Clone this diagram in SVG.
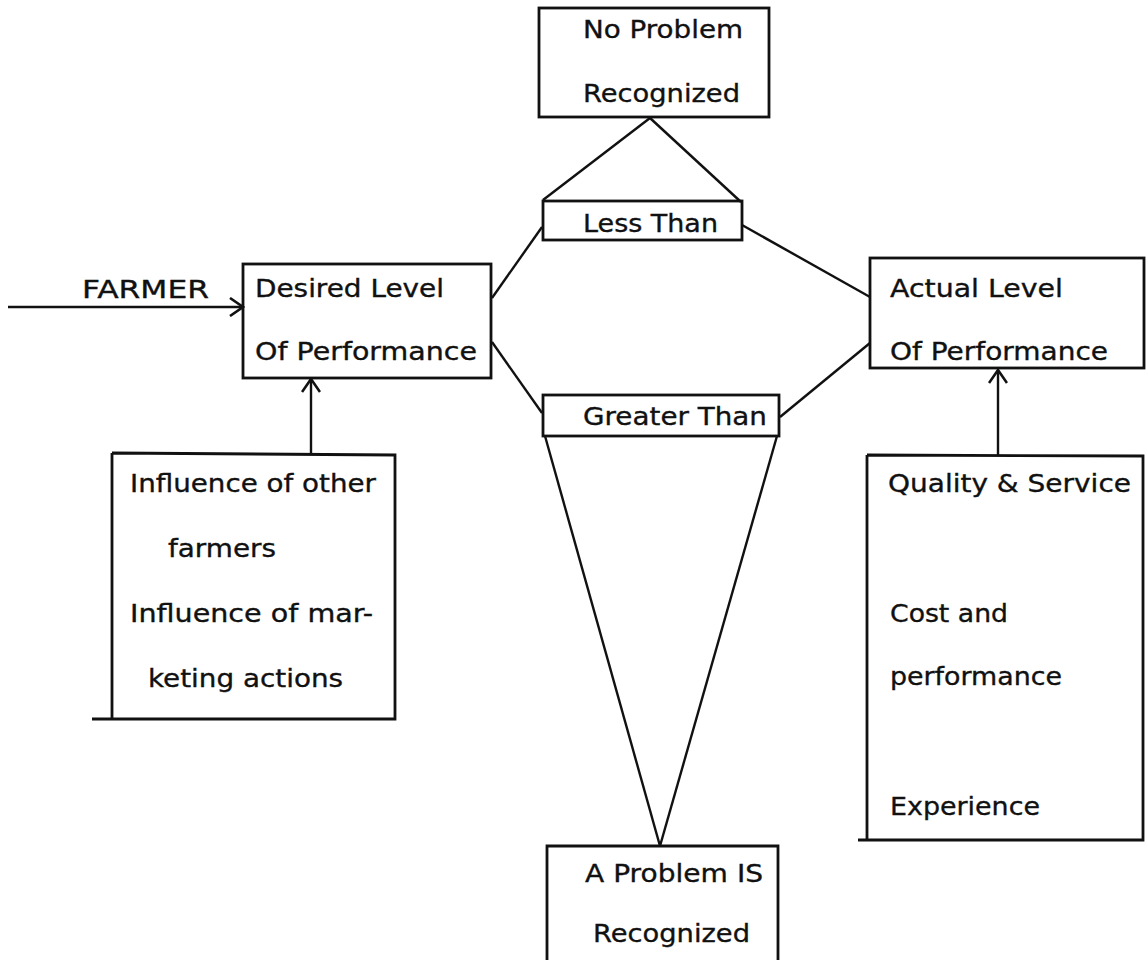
<svg xmlns="http://www.w3.org/2000/svg" width="1146" height="960" viewBox="0 0 1146 960">
<style>
.box{fill:none;stroke:#111;stroke-width:2.8}
.ln{fill:none;stroke:#111;stroke-width:2.4}
text{font-family:"DejaVu Sans","Noto Sans",sans-serif;font-size:25px;fill:#111;stroke:#111;stroke-width:0.35}
</style>
<defs>
<marker id="arr" viewBox="0 0 20 20" refX="18" refY="10" markerWidth="20" markerHeight="20" markerUnits="userSpaceOnUse" orient="auto">
<path d="M5,1 L18,10 L5,19" fill="none" stroke="#111" stroke-width="2.6"/>
</marker>
</defs>
<rect width="1146" height="960" fill="#fff"/>
<g id="connectors">
<line class="ln" x1="8" y1="307" x2="243" y2="307" marker-end="url(#arr)"/>
<line class="ln" x1="311" y1="453" x2="311" y2="379" marker-end="url(#arr)"/>
<line class="ln" x1="998" y1="455" x2="998" y2="370" marker-end="url(#arr)"/>
<line class="ln" x1="650" y1="118" x2="543" y2="200"/>
<line class="ln" x1="650" y1="118" x2="741" y2="202"/>
<line class="ln" x1="492" y1="298" x2="542" y2="227"/>
<line class="ln" x1="492" y1="342" x2="542" y2="413"/>
<line class="ln" x1="742" y1="225" x2="870" y2="297"/>
<line class="ln" x1="780" y1="417" x2="870" y2="343"/>
<line class="ln" x1="545" y1="436" x2="660" y2="846"/>
<line class="ln" x1="777" y1="436" x2="660" y2="846"/>
</g>
<g id="no-problem">
<rect class="box" x="539" y="8" width="230" height="109"/>
<text x="583" y="38" textLength="160" lengthAdjust="spacingAndGlyphs">No Problem</text>
<text x="583" y="102" textLength="157" lengthAdjust="spacingAndGlyphs">Recognized</text>
</g>
<g id="less-than">
<rect class="box" x="543" y="201" width="199" height="39"/>
<text x="583" y="232" textLength="135" lengthAdjust="spacingAndGlyphs">Less Than</text>
</g>
<g id="farmer">
<text x="82" y="298" textLength="127" lengthAdjust="spacingAndGlyphs">FARMER</text>
</g>
<g id="desired">
<rect class="box" x="243" y="264" width="248" height="114"/>
<text x="255" y="297" textLength="189" lengthAdjust="spacingAndGlyphs">Desired Level</text>
<text x="255" y="360" textLength="222" lengthAdjust="spacingAndGlyphs">Of Performance</text>
</g>
<g id="greater-than">
<rect class="box" x="543" y="395" width="236" height="41"/>
<text x="583" y="425" textLength="184" lengthAdjust="spacingAndGlyphs">Greater Than</text>
</g>
<g id="actual">
<rect class="box" x="870" y="258" width="274" height="110"/>
<text x="890" y="297" textLength="173" lengthAdjust="spacingAndGlyphs">Actual Level</text>
<text x="890" y="360" textLength="218" lengthAdjust="spacingAndGlyphs">Of Performance</text>
</g>
<g id="influence">
<path class="box" d="M112,453 L395,455 L395,719 L92,719 M112,453 L112,719"/>
<text x="130" y="492" textLength="246" lengthAdjust="spacingAndGlyphs">Influence of other</text>
<text x="168" y="557" textLength="108" lengthAdjust="spacingAndGlyphs">farmers</text>
<text x="130" y="622" textLength="243" lengthAdjust="spacingAndGlyphs">Influence of mar-</text>
<text x="148" y="687" textLength="195" lengthAdjust="spacingAndGlyphs">keting actions</text>
</g>
<g id="quality">
<path class="box" d="M867,455 L1143,456 L1143,840 L858,840 M867,455 L867,840"/>
<text x="888" y="492" textLength="243" lengthAdjust="spacingAndGlyphs">Quality &amp; Service</text>
<text x="890" y="622" textLength="118" lengthAdjust="spacingAndGlyphs">Cost and</text>
<text x="890" y="685" textLength="172" lengthAdjust="spacingAndGlyphs">performance</text>
<text x="890" y="815" textLength="150" lengthAdjust="spacingAndGlyphs">Experience</text>
</g>
<g id="a-problem">
<path class="box" d="M547,962 L547,846 L778,846 L778,962"/>
<text x="585" y="882" textLength="178" lengthAdjust="spacingAndGlyphs">A Problem IS</text>
<text x="593" y="942" textLength="157" lengthAdjust="spacingAndGlyphs">Recognized</text>
</g>
</svg>
